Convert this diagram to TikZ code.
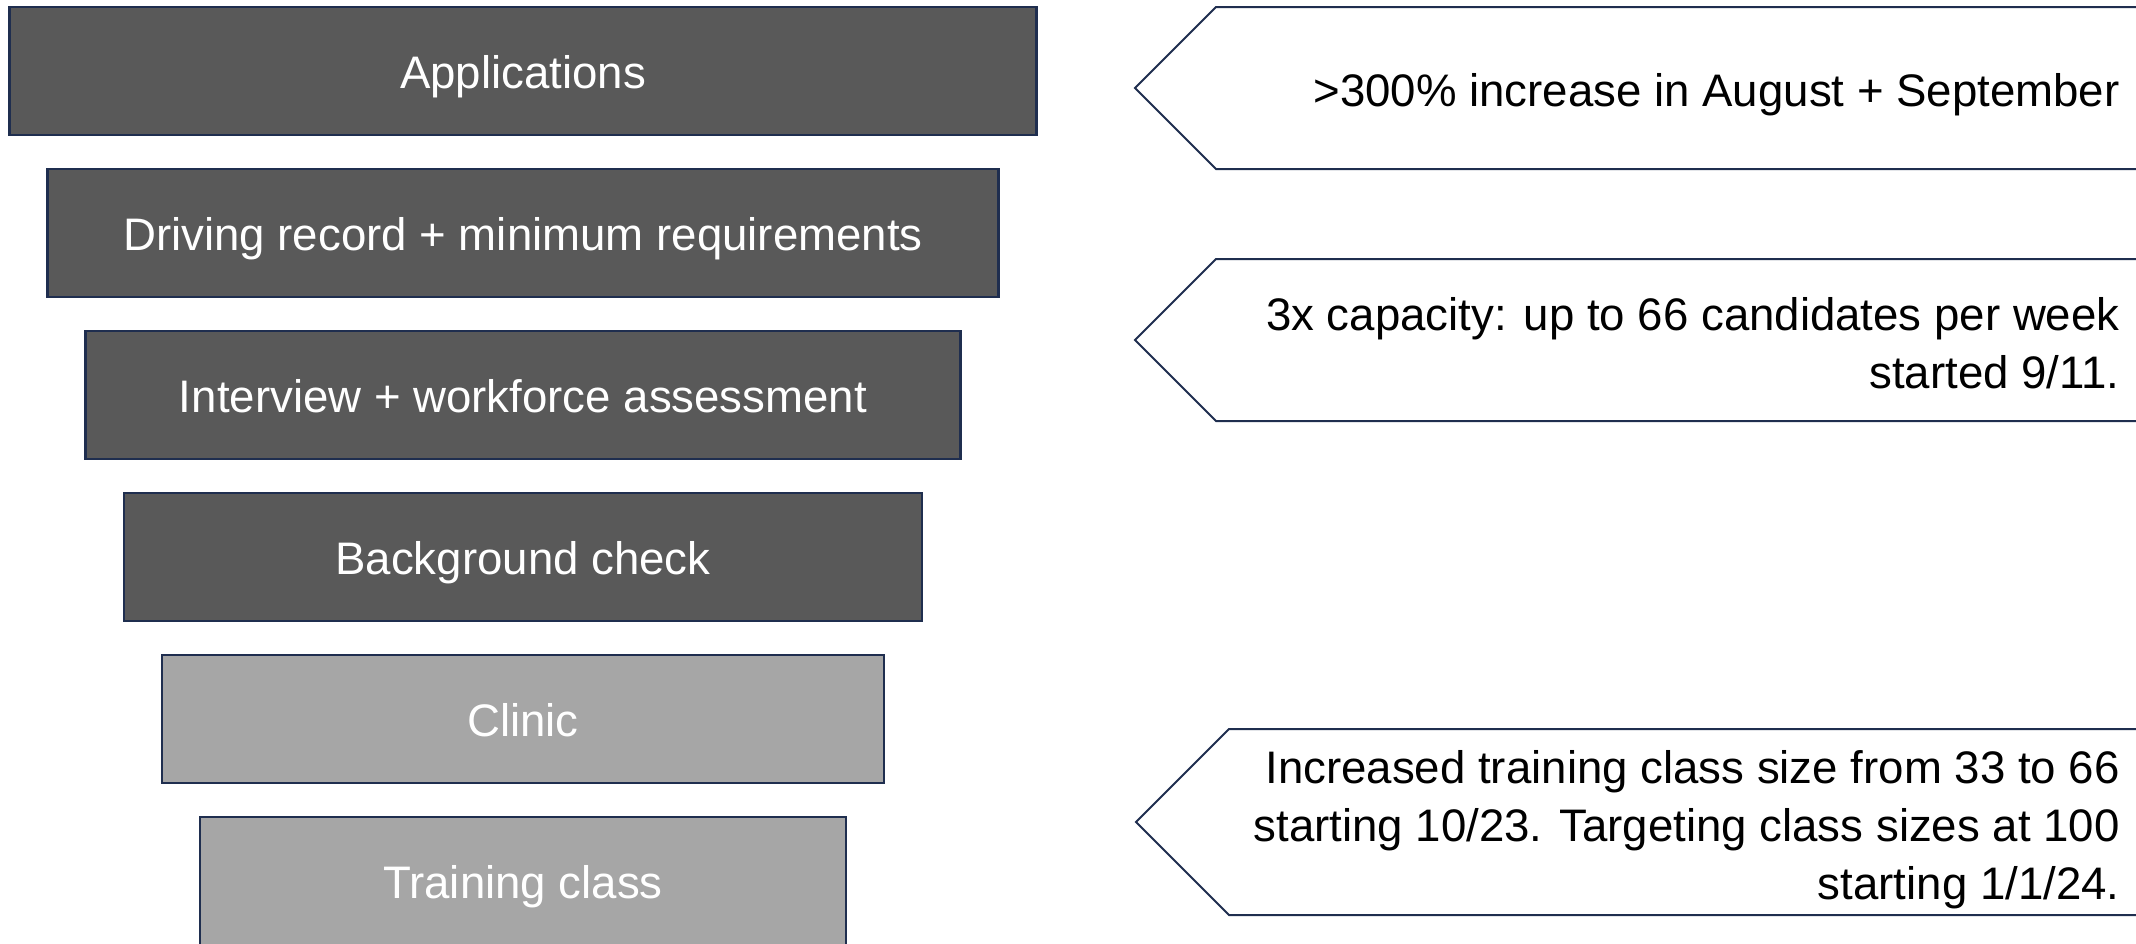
\documentclass[tikz,border=0pt]{standalone}
\usepackage{fontspec}
\setmainfont{Liberation Sans}
\usepackage{tikz}
\usetikzlibrary{positioning}

\definecolor{stageline}{HTML}{1F2E4F}
\definecolor{stagedark}{HTML}{595959}
\definecolor{stagelight}{HTML}{A6A6A6}

\tikzset{
  stage/.style = {draw=stageline, line width=1.3pt, minimum height=64pt, inner sep=0pt,
                  text height=17pt, text depth=0pt,
                  text=white, font=\fontsize{22.8}{28.5}\selectfont},
  darkstage/.style = {stage, fill=stagedark},
  lightstage/.style = {stage, fill=stagelight},
  note/.style = {draw=stageline, line width=1pt, fill=white},
  notetext/.style = {anchor=east, align=right, inner sep=0pt, text=black,
                     font=\fontsize{22.8}{29}\selectfont}
}

\begin{document}
\begin{tikzpicture}[x=0.5pt, y=-0.5pt]
		\useasboundingbox (0,0) rectangle (2136,943);
		% funnel stages
		\node [darkstage, minimum width=513.5pt] (apps) at (523,71) {Applications};
		\node [darkstage, minimum width=475.5pt, below=15.7pt of apps] (driving) {Driving record + minimum requirements};
		\node [darkstage, minimum width=437.5pt, below=15.7pt of driving] (interview) {Interview + workforce assessment};
		\node [darkstage, minimum width=399pt, below=15.7pt of interview] (background) {Background check};
		\node [lightstage, minimum width=361pt, below=15.7pt of background] (clinic) {Clinic};
		\node [lightstage, minimum width=323pt, below=15.7pt of clinic] (training) {Training class};
		% callouts
		\draw [note] (2150,7) -- (1216,7) -- (1135,88) -- (1216,169) -- (2150,169);
		\node [notetext] (growth) at (2120,95) {>300\% increase in August + September};
		\draw [note] (2150,259) -- (1216,259) -- (1135,340) -- (1216,421) -- (2150,421);
		\node [notetext] (capacity) at (2120,343) {3x capacity: up to 66 candidates per week\\ started 9/11.};
		\draw [note] (2150,729) -- (1229,729) -- (1136,822) -- (1229,915) -- (2150,915);
		\node [notetext] (classsize) at (2120,830) {Increased training class size from 33 to 66\\ starting 10/23. Targeting class sizes at 100\\ starting 1/1/24.};
\end{tikzpicture}
\end{document}
